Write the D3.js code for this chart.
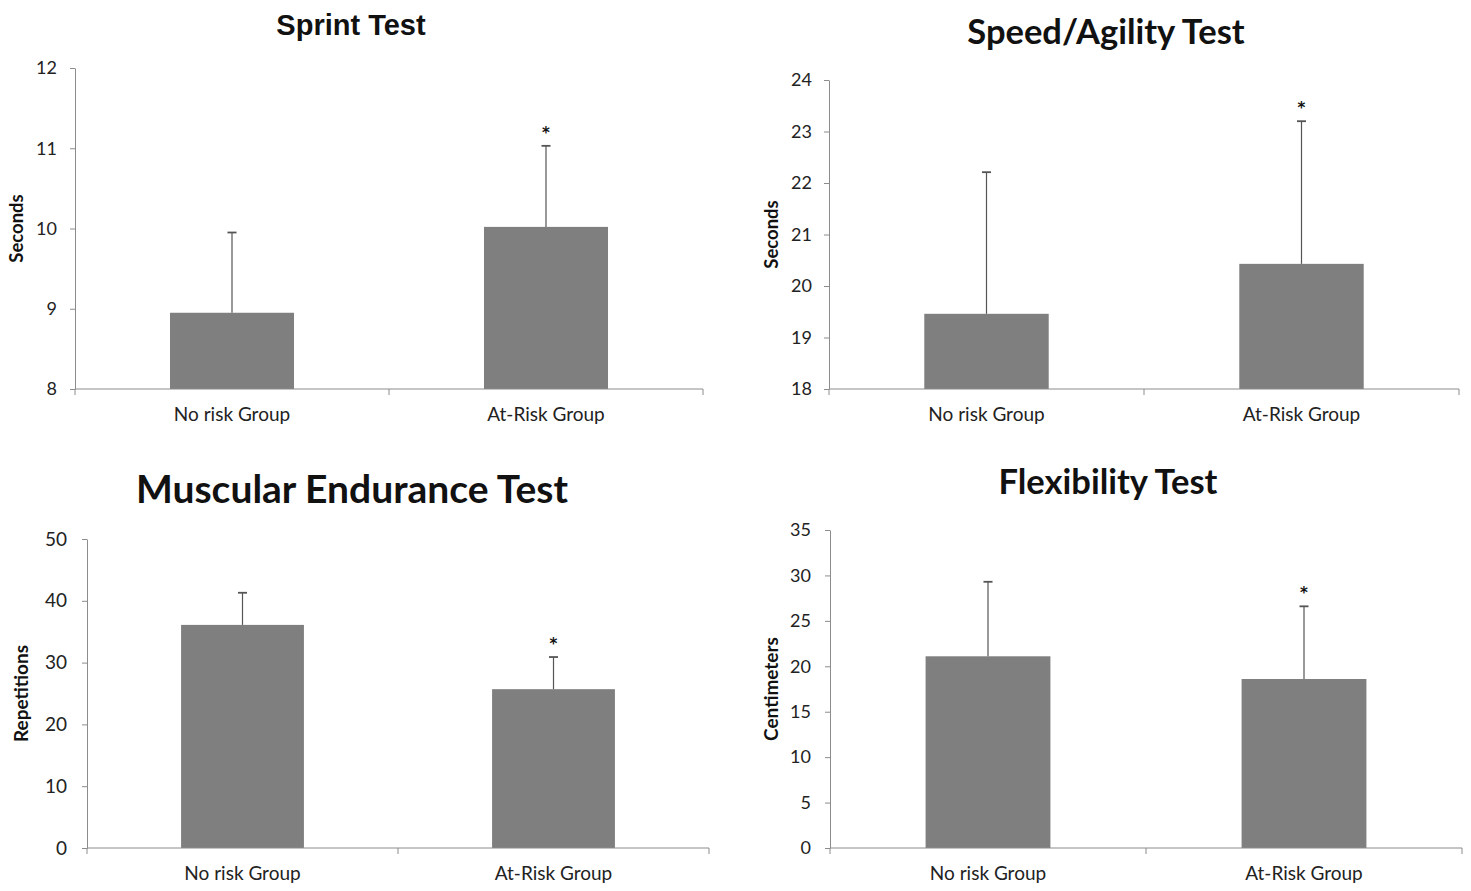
<!DOCTYPE html>
<html>
<head>
<meta charset="utf-8">
<script src="https://cdn.jsdelivr.net/npm/d3@7"></script>
<style>
  html, body { margin: 0; padding: 0; background: #fff; }
  svg { display: block; }
</style>
</head>
<body>
<svg id="chart" width="1471" height="891"></svg>
<script>
// ---------- DATA ----------
const categories = ["No risk Group", "At-Risk Group"];

const titles = ["Sprint Test", "Speed/Agility Test", "Muscular Endurance Test", "Flexibility Test"];
const yLabels = ["Seconds", "Seconds", "Repetitions", "Centimeters"];

const sprintMeans = [8.95, 10.02];
const sprintSD = [1.00, 1.01];
const sprintTicks = [8, 9, 10, 11, 12];

const agilityMeans = [19.46, 20.43];
const agilitySD = [2.75, 2.77];
const agilityTicks = [18, 19, 20, 21, 22, 23, 24];

const enduranceMeans = [36.1, 25.7];
const enduranceSD = [5.2, 5.2];
const enduranceTicks = [0, 10, 20, 30, 40, 50];

const flexMeans = [21.1, 18.6];
const flexSD = [8.2, 8.0];
const flexTicks = [0, 5, 10, 15, 20, 25, 30, 35];

const significant = [false, true]; // asterisk on At-Risk group

// ---------- LAYOUT ----------
const panels = [
  { means: sprintMeans, sd: sprintSD, ticks: sprintTicks, x0: 75, x1: 703, yTop: 68, yBot: 389,
    titleX: 351, titleY: 35, titleFont: "'Liberation Sans', Arial, sans-serif", titleSize: 29,
    labelX: 23, labelSize: 18.5, tickSize: 18, tickPad: 13 },
  { means: agilityMeans, sd: agilitySD, ticks: agilityTicks, x0: 829, x1: 1459, yTop: 80, yBot: 389,
    titleX: 1106, titleY: 44, titleFont: "Lato, sans-serif", titleSize: 34.5,
    labelX: 778, labelSize: 18.5, tickSize: 18, tickPad: 12 },
  { means: enduranceMeans, sd: enduranceSD, ticks: enduranceTicks, x0: 87, x1: 709, yTop: 539, yBot: 848,
    titleX: 352, titleY: 503, titleFont: "Lato, sans-serif", titleSize: 39,
    labelX: 28, labelSize: 19, tickSize: 19, tickPad: 15 },
  { means: flexMeans, sd: flexSD, ticks: flexTicks, x0: 830, x1: 1462, yTop: 530, yBot: 848,
    titleX: 1108, titleY: 494, titleFont: "Lato, sans-serif", titleSize: 34.5,
    labelX: 778, labelSize: 19, tickSize: 18, tickPad: 14 }
];

const svg = d3.select("#chart");
const axisColor = "#8c8c8c";
const barColor = "#7f7f7f";
const errColor = "#555";
const tickFont = "Lato, 'Open Sans', sans-serif";

panels.forEach((p, i) => {
  const g = svg.append("g");
  const domain = [d3.min(p.ticks), d3.max(p.ticks)];
  const y = d3.scaleLinear().domain(domain).range([p.yBot, p.yTop]);
  const x = d3.scaleBand().domain(categories).range([p.x0, p.x1]).padding(0);
  const barW = x.bandwidth() * 0.395;
  const rows = categories.map((c, j) => ({ cat: c, mean: p.means[j], sd: p.sd[j], sig: significant[j] }));
  const cx = d => x(d.cat) + x.bandwidth() / 2;

  // title
  g.append("text")
    .attr("x", p.titleX).attr("y", p.titleY)
    .attr("text-anchor", "middle")
    .style("font-family", p.titleFont)
    .style("font-weight", "bold")
    .style("font-size", p.titleSize + "px")
    .attr("fill", "#111")
    .text(titles[i]);

  // y label
  const yMid = (p.yTop + p.yBot) / 2;
  g.append("text")
    .attr("transform", `translate(${p.labelX},${yMid}) rotate(-90)`)
    .attr("text-anchor", "middle")
    .style("font-family", "Lato, sans-serif")
    .style("font-weight", "bold")
    .style("font-size", p.labelSize + "px")
    .attr("fill", "#111")
    .text(yLabels[i]);

  // bars
  g.selectAll("rect.bar").data(rows).enter().append("rect")
    .attr("class", "bar")
    .attr("x", d => cx(d) - barW / 2)
    .attr("width", barW)
    .attr("y", d => y(d.mean))
    .attr("height", d => y(domain[0]) - y(d.mean))
    .attr("fill", barColor);

  // error bars
  const eb = g.selectAll("g.err").data(rows).enter().append("g").attr("class", "err");
  eb.append("line")
    .attr("x1", cx).attr("x2", cx)
    .attr("y1", d => y(d.mean))
    .attr("y2", d => y(d.mean + d.sd))
    .attr("stroke", errColor).attr("stroke-width", 1.2);
  eb.append("line")
    .attr("x1", d => cx(d) - 4.5)
    .attr("x2", d => cx(d) + 4.5)
    .attr("y1", d => y(d.mean + d.sd))
    .attr("y2", d => y(d.mean + d.sd))
    .attr("stroke", errColor).attr("stroke-width", 1.8);

  // significance star
  g.selectAll("text.star").data(rows.filter(d => d.sig)).enter()
    .append("text")
    .attr("class", "star")
    .attr("x", cx)
    .attr("y", d => y(d.mean + d.sd) - 8)
    .attr("text-anchor", "middle")
    .style("font-family", "'DejaVu Sans', sans-serif")
    .style("font-size", "15px")
    .style("font-weight", "bold")
    .attr("fill", "#111")
    .text("*");

  // y axis
  const yAxis = g.append("g")
    .attr("transform", `translate(${p.x0},0)`)
    .call(d3.axisLeft(y).tickValues(p.ticks).tickFormat(d3.format("d"))
      .tickSize(5).tickPadding(p.tickPad).tickSizeOuter(0));
  yAxis.select(".domain").attr("stroke", axisColor);
  yAxis.selectAll(".tick line").attr("stroke", axisColor);
  yAxis.selectAll(".tick text")
    .style("font-family", tickFont)
    .style("font-size", p.tickSize + "px")
    .attr("fill", "#222");

  // x axis
  const xAxis = g.append("g")
    .attr("transform", `translate(0,${p.yBot})`)
    .call(d3.axisBottom(x).tickSize(0).tickPadding(19));
  xAxis.select(".domain").attr("stroke", axisColor).attr("d", `M${p.x0},0H${p.x1}`);
  xAxis.selectAll(".tick text")
    .style("font-family", tickFont)
    .style("font-size", "19px")
    .attr("fill", "#222");
  // category boundary ticks
  const bounds = [p.x0].concat(categories.map(c => x(c) + x.bandwidth()));
  xAxis.selectAll("line.bound").data(bounds).enter().append("line")
    .attr("class", "bound")
    .attr("x1", d => d).attr("x2", d => d)
    .attr("y1", 0).attr("y2", 6)
    .attr("stroke", axisColor);
});
</script>
</body>
</html>
